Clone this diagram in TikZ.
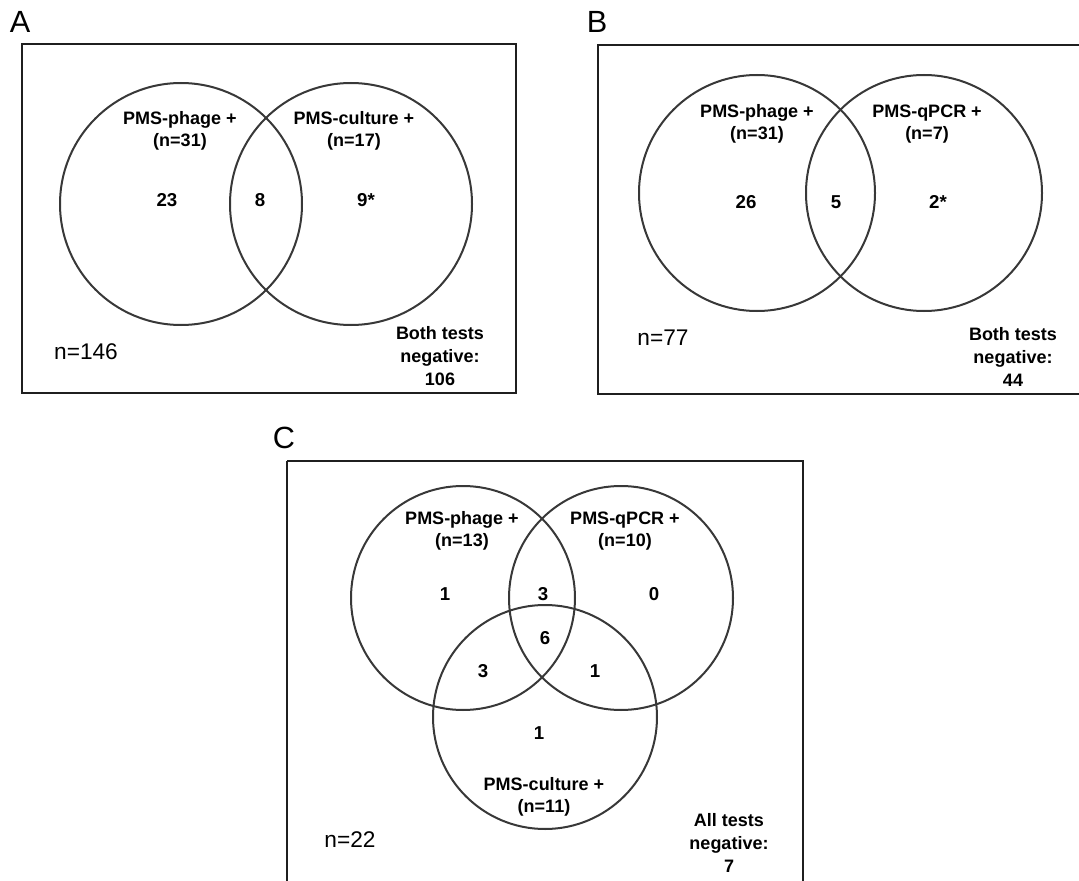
\documentclass[tikz,border=0pt]{standalone}
\usepackage{fontspec}
\setmainfont{Liberation Sans}
\begin{document}
\begin{tikzpicture}[x=0.75pt,y=-0.75pt,
  frame/.style={draw=black!88, line width=2.2pt},
  venn/.style={draw=black!78, line width=1.5pt, circle, inner sep=0pt},
  lab/.style={font=\bfseries\fontsize{13.5}{17}\selectfont, align=center, inner sep=0pt},
  num/.style={font=\bfseries\fontsize{14}{16}\selectfont, inner sep=0pt},
  tot/.style={font=\fontsize{17}{20}\selectfont, inner sep=0pt},
  panel/.style={font=\fontsize{23}{26}\selectfont, inner sep=0pt}]
\useasboundingbox (0,0) rectangle (1079,881);
\clip (0,0) rectangle (1079,881);

% ---------------- Panel A ----------------
\node[panel] (letA) at (20,22) {A};
\draw[frame] (22,44) rectangle (516,393);
\node[venn, minimum size=181.5pt] (phA) at (181,204) {};
\node[venn, minimum size=181.5pt] (cuA) at (351,204) {};
\node[lab] (tphA) at (180,131) {PMS-phage +\\(n=31)};
\node[lab] (tcuA) at (354,131) {PMS-culture +\\(n=17)};
\node[num] (a1) at (167,200) {23};
\node[num] (a2) at (260,200) {8};
\node[num] (a3) at (366,200) {9*};
\node[tot] (nA) at (86,352) {n=146};
\node[lab] (negA) at (440,356) {Both tests\\negative:\\106};

% ---------------- Panel B ----------------
\node[panel] (letB) at (597,22) {B};
\draw[frame] (598,45) rectangle (1090,394);
\node[venn, minimum size=177pt] (phB) at (757,193) {};
\node[venn, minimum size=177pt] (qpB) at (924,193) {};
\node[lab] (tphB) at (757,124) {PMS-phage +\\(n=31)};
\node[lab] (tqpB) at (927,124) {PMS-qPCR +\\(n=7)};
\node[num] (b1) at (746,202) {26};
\node[num] (b2) at (836,202) {5};
\node[num] (b3) at (938,202) {2*};
\node[tot] (nB) at (663,338) {n=77};
\node[lab] (negB) at (1013,357) {Both tests\\negative:\\44};

% ---------------- Panel C ----------------
\node[panel] (letC) at (284,438) {C};
\draw[frame] (287,461) -- (803,461) -- (803,900) (287,461) -- (287,900);
\node[venn, minimum size=168pt] (phC) at (463,598) {};
\node[venn, minimum size=168pt] (qpC) at (621,598) {};
\node[venn, minimum size=168pt] (cuC) at (545,717) {};
\node[lab] (tphC) at (462,531) {PMS-phage +\\(n=13)};
\node[lab] (tqpC) at (625,531) {PMS-qPCR +\\(n=10)};
\node[lab] (tcuC) at (544,797) {PMS-culture +\\(n=11)};
\node[num] (c1) at (445,594) {1};
\node[num] (c2) at (543,594) {3};
\node[num] (c3) at (654,594) {0};
\node[num] (c4) at (545,638) {6};
\node[num] (c5) at (483,671) {3};
\node[num] (c6) at (595,671) {1};
\node[num] (c7) at (539,733) {1};
\node[tot] (nC) at (350,840) {n=22};
\node[lab] (negC) at (729,843) {All tests\\negative:\\7};
\end{tikzpicture}
\end{document}
